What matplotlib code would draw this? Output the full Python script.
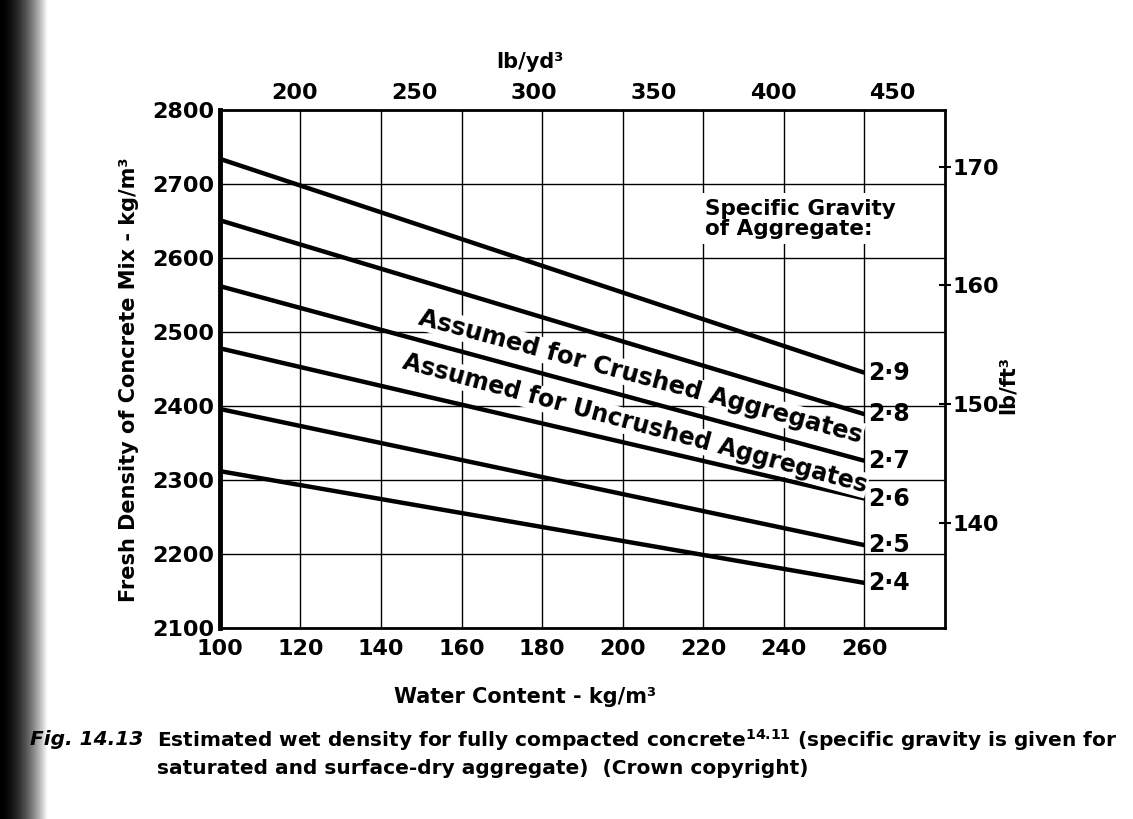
import numpy as np
import matplotlib.pyplot as plt

# water content (kg/m3) where each line starts and ends
water = [100, 260]
# specific gravity of aggregate, one line each
gravity_labels = ['2·9', '2·8', '2·7', '2·6', '2·5', '2·4']
density_100 = [2734, 2651, 2562, 2478, 2396, 2312]
density_260 = [2445, 2389, 2326, 2275, 2212, 2161]

x_ticks = [100, 120, 140, 160, 180, 200, 220, 240, 260]
y_ticks = [2100, 2200, 2300, 2400, 2500, 2600, 2700, 2800]
lbyd_ticks = [200, 250, 300, 350, 400, 450]
lbft_ticks = [140, 150, 160, 170]

KG_PER_LBYD = 0.5933
KG_PER_LBFT = 16.018


def kg_to_lbyd(x):
    return x / KG_PER_LBYD


def lbyd_to_kg(x):
    return x * KG_PER_LBYD


def kg_to_lbft(y):
    return y / KG_PER_LBFT


def lbft_to_kg(y):
    return y * KG_PER_LBFT


plt.rcParams['font.weight'] = 'bold'

fig = plt.figure(figsize=(11.33, 8.19), dpi=100)
fig.patch.set_facecolor('white')

# dark scan edge on the left
band = fig.add_axes([0, 0, 0.042, 1])
grad = np.linspace(0.0, 1.0, 60) ** 1.8
band.imshow(np.tile(grad, (10, 1)), cmap='gray', vmin=0, vmax=1, aspect='auto')
band.set_axis_off()

ax = fig.add_axes([0.194, 0.2332, 0.640, 0.6325])
ax.set_xlim(100, 280)
ax.set_ylim(2100, 2800)

ax.set_xticks(x_ticks)
ax.set_yticks(y_ticks)
ax.grid(True, color='black', lw=1.0)
ax.set_axisbelow(True)

for i in range(len(gravity_labels)):
    ax.plot(water, [density_100[i], density_260[i]], color='black', lw=3.2,
            solid_capstyle='butt', zorder=3)
    ax.text(water[1] + 1.0, density_260[i], gravity_labels[i], fontsize=17,
            ha='left', va='center', zorder=4)

# rotated notes along the lines
fig.canvas.draw()
slope = (np.mean(density_260[1:4]) - np.mean(density_100[1:4])) / (water[1] - water[0])
ang = np.degrees(np.arctan2(slope, 1.0))
screen_ang = ax.transData.transform_angles(np.array([ang]), np.array([[200, 2400]]))[0]
ax.text(204.5, 2440, 'Assumed for Crushed Aggregates', fontsize=17.5, rotation=screen_ang,
        rotation_mode='anchor', ha='center', va='center', zorder=5,
        bbox=dict(facecolor='white', edgecolor='none', pad=0.5))
ax.text(203, 2376, 'Assumed for Uncrushed Aggregates', fontsize=17, rotation=screen_ang,
        rotation_mode='anchor', ha='center', va='center', zorder=5,
        bbox=dict(facecolor='white', edgecolor='none', pad=0.5))

ax.text(220.5, 2653, 'Specific Gravity\nof Aggregate:', fontsize=15.5, ha='left',
        va='center', linespacing=1.0, zorder=5,
        bbox=dict(facecolor='white', edgecolor='none', pad=4))

for s in ax.spines.values():
    s.set_linewidth(2)
ax.spines['left'].set_linewidth(3.5)

ax.tick_params(axis='both', length=0, labelsize=16)
ax.tick_params(axis='x', pad=8)
ax.tick_params(axis='y', pad=4)

fig.text(525 / 1133, 1 - 697 / 819, 'Water Content - kg/m³', fontsize=15,
         ha='center', va='center')
fig.text(129 / 1133, 1 - 380 / 819, 'Fresh Density of Concrete Mix - kg/m³', fontsize=15,
         rotation=90, ha='center', va='center')

top = ax.secondary_xaxis('top', functions=(kg_to_lbyd, lbyd_to_kg))
top.set_xticks(lbyd_ticks)
top.tick_params(length=0, labelsize=16, pad=5)
top.spines['top'].set_visible(False)
fig.text(530 / 1133, 1 - 62 / 819, 'lb/yd³', fontsize=15, ha='center', va='center')

right = ax.secondary_yaxis('right', functions=(kg_to_lbft, lbft_to_kg))
right.set_yticks(lbft_ticks)
right.tick_params(direction='inout', length=9, width=1.5, labelsize=16, pad=1)
right.spines['right'].set_visible(False)
fig.text(1008 / 1133, 1 - 385 / 819, 'lb/ft³', fontsize=15, rotation=90,
         ha='center', va='center')

fig.text(143 / 1133, 0.097, 'Fig. 14.13', fontsize=14.5, style='italic', ha='right',
         va='center')
fig.text(157 / 1133, 0.097,
         r'Estimated wet density for fully compacted concrete$^{\mathregular{14.11}}$'
         ' (specific gravity is given for', fontsize=14.5, ha='left', va='center')
fig.text(157 / 1133, 0.062, 'saturated and surface-dry aggregate)  (Crown copyright)',
         fontsize=14.5, ha='left', va='center')

fig.savefig('out.png', dpi=100)
